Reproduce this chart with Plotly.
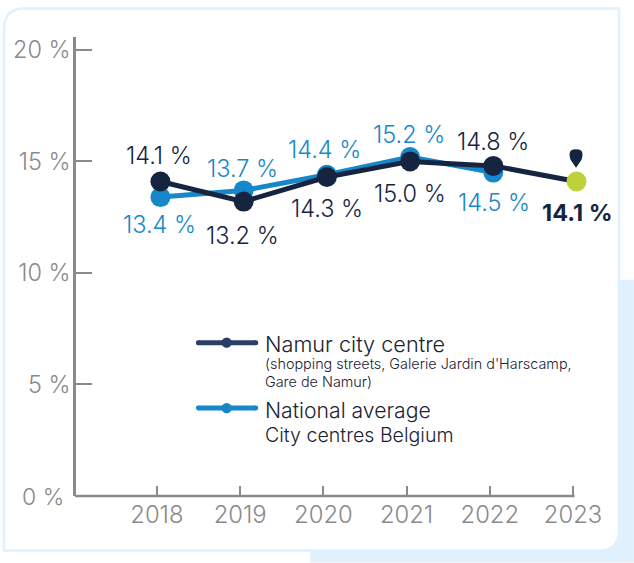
import plotly.graph_objects as go

years = [2018, 2019, 2020, 2021, 2022, 2023]
namur = [14.1, 13.2, 14.3, 15.0, 14.8, 14.1]
national_years = [2018, 2019, 2020, 2021, 2022]
national = [13.4, 13.7, 14.4, 15.2, 14.5]
y_ticks = [0, 5, 10, 15, 20]
y_tick_labels = ["", "5 %", "10 %", "15 %", "20 %"]

W, H = 634, 563
L, R, T, B = 75.5, 30, 37, 66.5
DARK, BLUE, LIME, GREY = "#16253F", "#1688CA", "#BDD23A", "#8A8A8A"
LEG_DARK, CARD, TEXT = "#2A3F66", "#E0F1FD", "#1B2333"
FONT = "Inter"
SCALE = 83.3

def px(x):
    return (x - L) / (W - L - R)

def py(y):
    return 1 - (y - T) / (H - T - B)

def P(x, y):
    return f"{px(x):.5f},{py(y):.5f}"

def path_shape(d, **kw):
    return dict(type="path", xref="paper", yref="paper", path=d, **kw)

def disc(cx, cy, r, col):
    return dict(type="circle", xref="paper", yref="paper", x0=px(cx - r), x1=px(cx + r), y0=py(cy + r), y1=py(cy - r),
                fillcolor=col, line_width=0)

shapes = [
    path_shape(f"M{P(310,280)} L{P(634,280)} L{P(634,563)} L{P(310,563)} Z", fillcolor=CARD, line_width=0, layer="below"),
    path_shape(f"M{P(24,8.5)} L{P(619,8.5)} L{P(619,531)} Q{P(619,551)} {P(599,551)} L{P(3.5,551)} L{P(3.5,29)} Q{P(3.5,8.5)} {P(24,8.5)} Z",
               fillcolor="white", line=dict(color=CARD, width=2.5), layer="below"),
    # x axis line, stopping at the last tick
    dict(type="line", xref="paper", yref="paper", x0=px(74.5), x1=px(574.5), y0=py(496.5), y1=py(496.5),
         line=dict(color=GREY, width=2.5), layer="below"),
    # location pin above the latest point
    path_shape(f"M{P(576,168)} L{P(570.5,160)} Q{P(567,149)} {P(576,149.5)} Q{P(585,149)} {P(581.5,160)} Z",
               fillcolor=DARK, line_width=0, layer="above"),
]
for yy, col in [(343, LEG_DARK), (408.5, BLUE)]:
    shapes.append(dict(type="line", xref="paper", yref="paper", x0=px(198), x1=px(255.5), y0=py(yy), y1=py(yy),
                       line=dict(color=col, width=5)))
    shapes += [disc(198, yy, 2.5, col), disc(255.5, yy, 2.5, col), disc(226.3, yy, 5.2, col)]

fig = go.Figure()
fig.add_trace(go.Scatter(x=national_years, y=national, mode="lines+markers", cliponaxis=False,
                         line=dict(color=BLUE, width=5), marker=dict(color=BLUE, size=20), hoverinfo="skip"))
fig.add_trace(go.Scatter(x=years, y=namur, mode="lines+markers", cliponaxis=False,
                         line=dict(color=DARK, width=5),
                         marker=dict(color=[DARK] * 5 + [LIME], size=20), hoverinfo="skip"))

annotations = []
def value_label(x, v, dx, dy, col, weight=300):
    annotations.append(dict(x=x, y=v, xref="x", yref="y", text=f"{v:.1f} %", showarrow=False, xshift=dx, yshift=dy,
                            font=dict(family=FONT, size=23.5, color=col, weight=weight)))

for x, v, dx, dy in zip(years, namur, [-1, -1, 0, 0, 0, 1], [26, -34, -31, -32, 24, -31]):
    value_label(x, v, dx, dy, DARK, 700 if x == 2023 else 300)
for x, v, dx, dy in zip(national_years, national, [-1, -1, -2, -1, 1], [-27, 22, 25, 22, -30]):
    value_label(x, v, dx, dy, BLUE)

def text(x, y, s, size):
    annotations.append(dict(x=px(x), y=py(y), xref="paper", yref="paper", xanchor="left", yanchor="middle", text=s,
                            showarrow=False, xshift=-2, font=dict(family=FONT, size=size, color=TEXT, weight=300)))

text(265, 344, "Namur city centre", 21.7)
text(265, 364, "(shopping streets, Galerie Jardin d'Harscamp,", 14.4)
text(265, 382, "Gare de Namur)", 14.4)
text(265, 410, "National average", 21.2)
text(265, 435, "City centres Belgium", 19.6)
annotations.append(dict(x=px(63), y=py(498), xref="paper", yref="paper", xanchor="right", yanchor="middle", text="0 %",
                        showarrow=False, xshift=2, font=dict(family=FONT, size=23, color=GREY, weight=300)))

tick_shift = 0.042
fig.update_layout(
    width=W, height=H, margin=dict(l=L, r=R, t=T, b=B, pad=0), showlegend=False,
    paper_bgcolor="white", plot_bgcolor="rgba(0,0,0,0)",
    shapes=shapes, annotations=annotations,
    xaxis=dict(range=[2018 - (160 - L) / SCALE, 2018 + (W - R - 160) / SCALE], tickvals=[y - tick_shift for y in years],
               ticktext=[str(y) for y in years], ticks="inside", ticklen=10, tickwidth=2, tickcolor=GREY,
               showline=False, showgrid=False, zeroline=False, ticklabelstandoff=2,
               tickfont=dict(family=FONT, size=23.8, color=GREY, weight=300)),
    yaxis=dict(range=[0, (H - B - T) / 22.33], tickvals=y_ticks, ticktext=y_tick_labels, ticks="inside", ticklen=16,
               tickwidth=2, tickcolor=GREY, showline=True, linecolor=GREY, linewidth=2.5, showgrid=False, zeroline=False,
               ticklabelstandoff=-2,
               tickfont=dict(family=FONT, size=23.5, color=GREY, weight=300)),
)
fig.write_html("out.html", config={"displayModeBar": False}, post_script="document.body.style.margin='0';")
